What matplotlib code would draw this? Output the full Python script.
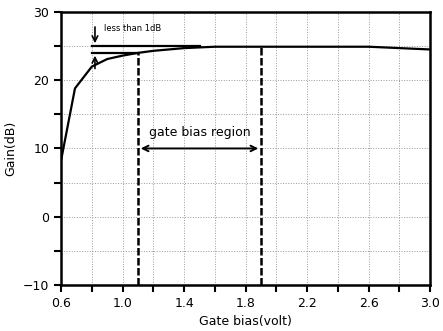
import matplotlib
matplotlib.use("Agg")
import matplotlib.pyplot as plt
import numpy as np

# gain curve
bias = [0.6, 0.69, 0.8, 0.9, 1.0, 1.1, 1.2, 1.4, 1.6, 1.8, 2.0, 2.2, 2.4, 2.6, 2.8, 3.0]
gain = [8.3, 18.8, 22.0, 23.1, 23.6, 24.0, 24.3, 24.7, 24.9, 24.9, 24.9, 24.9, 24.9, 24.9, 24.7, 24.5]

region = [1.1, 1.9]
level_hi = 25.0
level_lo = 24.0

fig = plt.figure(figsize=(4.43, 3.31), dpi=100)
ax = fig.add_axes([0.138, 0.139, 0.833, 0.825])

ax.plot(bias, gain, color='black', lw=1.6)

# 1 dB markers
ax.plot([0.8, 1.5], [level_hi, level_hi], color='black', lw=1.6)
ax.plot([0.8, 1.1], [level_lo, level_lo], color='black', lw=1.6)
ax.annotate('', xy=(0.82, level_hi), xytext=(0.82, 28.2),
            arrowprops=dict(arrowstyle='->', color='black', lw=1.2))
ax.annotate('', xy=(0.82, level_lo), xytext=(0.82, 21.3),
            arrowprops=dict(arrowstyle='->', color='black', lw=1.2))
ax.text(0.88, 27.6, 'less than 1dB', fontsize=6, va='center')

# gate bias region
ax.plot([region[0], region[0]], [-10, 24.0], color='black', lw=1.8, ls=(0, (3, 1)))
ax.plot([region[1], region[1]], [-10, 25.0], color='black', lw=1.8, ls=(0, (3, 1)))
ax.annotate('', xy=(region[0], 10), xytext=(region[1], 10),
            arrowprops=dict(arrowstyle='<->', color='black', lw=1.4))
ax.text(sum(region) / 2, 12.3, 'gate bias region', fontsize=9, ha='center', va='center')

ax.set_xlim(0.6, 3.0)
ax.set_ylim(-10, 30)
ax.set_xticks(np.arange(0.6, 3.01, 0.4))
ax.set_xticks(np.arange(0.8, 3.0, 0.4), minor=True)
ax.set_xticklabels(['0.6', '1.0', '1.4', '1.8', '2.2', '2.6', '3.0'])
ax.set_yticks([-10, 0, 10, 20, 30])
ax.set_yticks([-5, 5, 15, 25], minor=True)
ax.grid(True, which='both', color='#999999', ls=':', lw=0.7)
ax.tick_params(which='both', direction='out', length=5, width=1.5, labelsize=9)
for s in ax.spines.values():
    s.set_linewidth(1.8)

ax.set_xlabel('Gate bias(volt)', fontsize=9)
ax.set_ylabel('Gain(dB)', fontsize=9)

fig.savefig('out.png', dpi=100)
